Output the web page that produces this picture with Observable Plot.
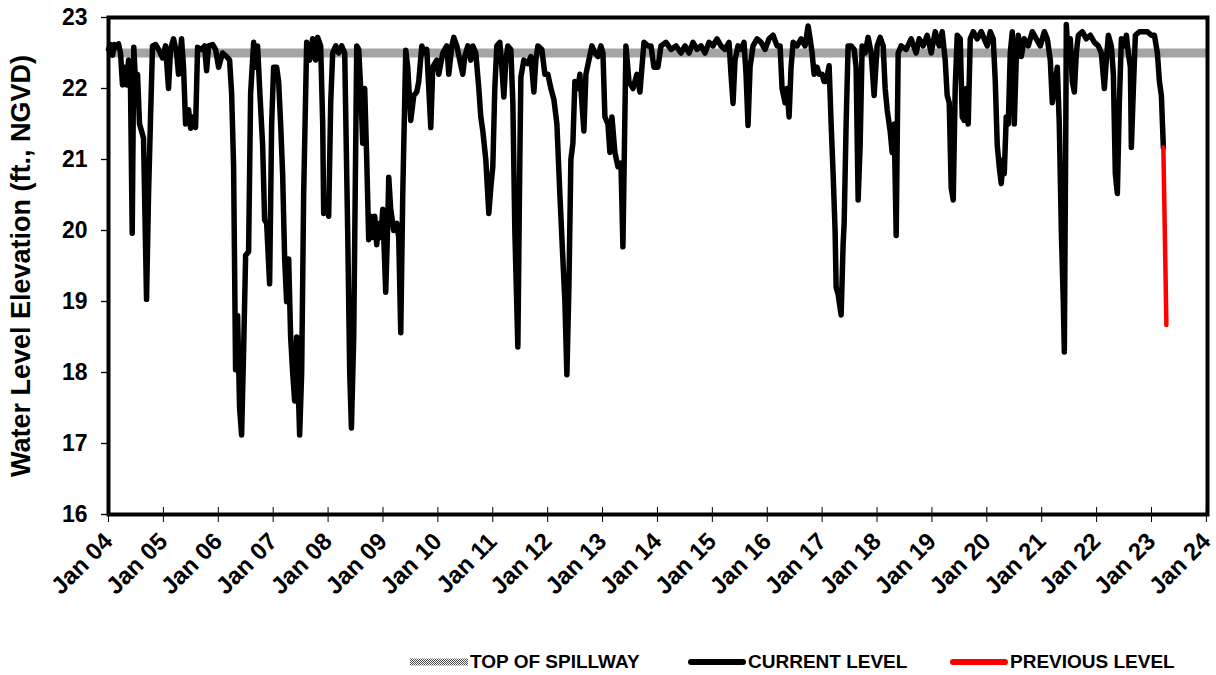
<!DOCTYPE html>
<html>
<head>
<meta charset="utf-8">
<script src="https://cdn.jsdelivr.net/npm/d3@7"></script>
<script src="https://cdn.jsdelivr.net/npm/@observablehq/plot@0.6"></script>
<style>
  html, body { margin: 0; padding: 0; background: #fff; }
  #wrap { position: relative; width: 1216px; height: 675px; font-family: "Liberation Sans", Arial, sans-serif; font-weight: bold; }
  #legend { position: absolute; left: 0; top: 652px; width: 1216px; height: 20px; font-size: 19px; color: #000; }
  .item { position: absolute; top: 0; height: 20px; display: flex; align-items: center; white-space: nowrap; }
  .item svg { display: block; margin-right: 2px; }
</style>
</head>
<body>
<div id="wrap"><div id="legend"></div></div>
<script>
// ---- data ----
const yearTicks = [2004, 2005, 2006, 2007, 2008, 2009, 2010, 2011, 2012, 2013, 2014, 2015, 2016, 2017, 2018, 2019, 2020, 2021, 2022, 2023, 2024];
const yearTickLabels = ["Jan 04", "Jan 05", "Jan 06", "Jan 07", "Jan 08", "Jan 09", "Jan 10", "Jan 11", "Jan 12", "Jan 13", "Jan 14", "Jan 15", "Jan 16", "Jan 17", "Jan 18", "Jan 19", "Jan 20", "Jan 21", "Jan 22", "Jan 23", "Jan 24"];
const levelTicks = [16, 17, 18, 19, 20, 21, 22, 23];
const spillwayLevel = [22.5];
const seriesNames = ["TOP OF SPILLWAY", "CURRENT LEVEL", "PREVIOUS LEVEL"];
const yLabel = "Water Level Elevation (ft., NGVD)";

// [decimal year, water level]
const currentLevel = [
[2004.000,22.55],[2004.036,22.62],[2004.073,22.47],[2004.109,22.62],[2004.146,22.58],[2004.182,22.63],[2004.219,22.50],[2004.255,22.05],[2004.292,22.30],[2004.328,22.05],[2004.365,22.40],[2004.401,22.00],[2004.432,19.96],[2004.461,22.58],[2004.492,22.10],[2004.529,22.20],[2004.565,21.50],[2004.602,21.40],[2004.638,21.30],[2004.693,19.03],[2004.729,20.50],[2004.766,21.60],[2004.802,22.60],[2004.857,22.62],[2004.912,22.55],[2004.985,22.43],
[2005.039,22.60],[2005.094,22.00],[2005.130,22.55],[2005.185,22.70],[2005.240,22.50],[2005.276,22.20],[2005.331,22.70],[2005.367,22.30],[2005.404,21.50],[2005.459,21.70],[2005.495,21.44],[2005.550,21.60],[2005.586,21.45],[2005.623,22.58],[2005.696,22.55],[2005.750,22.60],[2005.787,22.25],[2005.823,22.60],[2005.896,22.62],[2005.951,22.55],
[2006.006,22.30],[2006.078,22.50],[2006.151,22.45],[2006.206,22.40],[2006.243,21.93],[2006.279,20.90],[2006.315,18.04],[2006.352,18.80],[2006.388,17.50],[2006.425,17.12],[2006.461,18.30],[2006.498,19.65],[2006.552,19.70],[2006.589,21.93],[2006.644,22.65],[2006.680,22.30],[2006.716,22.60],[2006.753,22.00],[2006.808,21.20],[2006.844,20.15],[2006.881,20.10],[2006.935,19.25],[2006.972,21.50],
[2007.008,22.30],[2007.063,22.30],[2007.099,22.10],[2007.136,21.50],[2007.172,20.80],[2007.209,19.60],[2007.245,19.00],[2007.282,19.60],[2007.318,18.50],[2007.355,18.00],[2007.391,17.60],[2007.428,18.50],[2007.482,17.12],[2007.519,18.00],[2007.555,20.50],[2007.610,22.65],[2007.665,22.40],[2007.719,22.70],[2007.774,22.40],[2007.810,22.72],[2007.865,22.60],[2007.902,21.50],[2007.920,20.24],[2007.975,20.30],
[2008.011,20.20],[2008.048,21.80],[2008.084,22.50],[2008.139,22.60],[2008.193,22.50],[2008.248,22.60],[2008.303,22.50],[2008.357,20.00],[2008.394,18.00],[2008.425,17.22],[2008.467,18.50],[2008.522,22.60],[2008.558,22.55],[2008.594,22.00],[2008.631,21.23],[2008.667,22.00],[2008.704,21.00],[2008.740,19.87],[2008.777,20.20],[2008.813,19.90],[2008.850,20.20],[2008.886,19.80],[2008.923,20.10],[2008.959,19.90],[2008.996,20.30],
[2009.050,19.13],[2009.087,20.10],[2009.105,20.75],[2009.141,20.30],[2009.196,20.00],[2009.251,20.10],[2009.287,19.90],[2009.324,18.56],[2009.360,20.50],[2009.415,22.54],[2009.451,22.30],[2009.506,21.55],[2009.561,21.90],[2009.615,21.95],[2009.652,22.10],[2009.707,22.60],[2009.761,22.50],[2009.798,22.55],[2009.871,21.45],[2009.907,22.30],[2009.980,22.40],
[2010.017,22.20],[2010.089,22.50],[2010.162,22.60],[2010.199,22.20],[2010.254,22.60],[2010.290,22.72],[2010.345,22.60],[2010.399,22.40],[2010.454,22.20],[2010.491,22.45],[2010.545,22.60],[2010.600,22.40],[2010.636,22.60],[2010.691,22.50],[2010.746,22.00],[2010.782,21.60],[2010.819,21.40],[2010.873,21.00],[2010.928,20.24],[2010.964,20.60],
[2011.001,20.90],[2011.037,22.00],[2011.074,22.60],[2011.129,22.65],[2011.165,22.30],[2011.202,21.88],[2011.238,22.40],[2011.275,22.60],[2011.329,22.55],[2011.366,21.80],[2011.402,20.00],[2011.457,18.36],[2011.493,21.00],[2011.512,22.16],[2011.566,22.40],[2011.639,22.35],[2011.694,22.45],[2011.749,21.95],[2011.785,22.40],[2011.822,22.60],[2011.894,22.55],[2011.949,22.20],
[2012.004,22.20],[2012.059,22.00],[2012.113,21.85],[2012.168,21.50],[2012.223,20.50],[2012.277,19.60],[2012.314,19.00],[2012.350,17.97],[2012.387,19.20],[2012.423,21.00],[2012.460,21.23],[2012.496,22.10],[2012.551,22.00],[2012.587,22.20],[2012.624,21.80],[2012.660,21.40],[2012.697,22.20],[2012.751,22.40],[2012.806,22.60],[2012.861,22.50],[2012.915,22.45],[2012.970,22.60],
[2013.007,22.50],[2013.043,21.60],[2013.098,21.50],[2013.134,21.10],[2013.171,21.60],[2013.225,21.10],[2013.280,20.90],[2013.335,20.95],[2013.371,19.77],[2013.426,22.60],[2013.481,22.10],[2013.554,22.00],[2013.626,22.20],[2013.681,21.95],[2013.754,22.65],[2013.827,22.60],[2013.882,22.60],[2013.936,22.30],
[2014.009,22.30],[2014.064,22.60],[2014.155,22.65],[2014.246,22.55],[2014.338,22.60],[2014.429,22.50],[2014.502,22.60],[2014.575,22.50],[2014.647,22.65],[2014.720,22.55],[2014.793,22.60],[2014.866,22.50],[2014.939,22.65],
[2015.012,22.60],[2015.085,22.70],[2015.158,22.60],[2015.231,22.55],[2015.304,22.65],[2015.340,22.20],[2015.377,21.79],[2015.413,22.40],[2015.468,22.60],[2015.523,22.55],[2015.577,22.65],[2015.614,22.20],[2015.650,21.48],[2015.687,22.30],[2015.741,22.60],[2015.814,22.70],[2015.887,22.65],[2015.960,22.55],
[2016.033,22.70],[2016.106,22.75],[2016.179,22.60],[2016.234,22.60],[2016.270,22.00],[2016.325,21.80],[2016.361,22.00],[2016.398,21.60],[2016.434,22.30],[2016.471,22.65],[2016.544,22.60],[2016.617,22.70],[2016.689,22.60],[2016.744,22.88],[2016.781,22.70],[2016.817,22.50],[2016.854,22.20],[2016.908,22.30],[2016.945,22.20],
[2017.000,22.20],[2017.036,22.10],[2017.072,22.10],[2017.127,22.32],[2017.164,21.50],[2017.200,20.80],[2017.236,20.00],[2017.255,19.20],[2017.291,19.10],[2017.346,18.81],[2017.382,19.80],[2017.401,20.10],[2017.437,21.50],[2017.473,22.60],[2017.528,22.60],[2017.583,22.55],[2017.619,22.30],[2017.656,20.43],[2017.692,21.20],[2017.729,22.60],[2017.783,22.50],[2017.838,22.72],[2017.893,22.50],[2017.947,21.90],
[2018.002,22.60],[2018.057,22.72],[2018.112,22.60],[2018.148,22.00],[2018.185,21.70],[2018.239,21.40],[2018.276,21.10],[2018.312,21.50],[2018.349,19.93],[2018.385,22.50],[2018.440,22.60],[2018.531,22.55],[2018.622,22.70],[2018.713,22.50],[2018.768,22.70],[2018.841,22.60],[2018.914,22.75],[2018.987,22.50],
[2019.060,22.80],[2019.133,22.60],[2019.187,22.80],[2019.242,22.40],[2019.278,21.90],[2019.315,21.80],[2019.351,20.60],[2019.388,20.43],[2019.424,22.00],[2019.461,22.75],[2019.515,22.70],[2019.552,21.60],[2019.588,21.55],[2019.625,22.00],[2019.661,21.50],[2019.698,22.70],[2019.752,22.80],[2019.825,22.70],[2019.898,22.80],[2019.953,22.70],
[2020.008,22.60],[2020.062,22.80],[2020.117,22.70],[2020.154,22.10],[2020.190,21.20],[2020.226,20.90],[2020.263,20.66],[2020.299,21.00],[2020.318,20.80],[2020.354,21.60],[2020.391,21.50],[2020.427,22.50],[2020.464,22.80],[2020.500,21.50],[2020.536,22.40],[2020.573,22.75],[2020.628,22.45],[2020.682,22.70],[2020.755,22.60],[2020.828,22.80],[2020.901,22.70],[2020.974,22.60],
[2021.047,22.80],[2021.102,22.70],[2021.156,22.40],[2021.193,21.80],[2021.229,22.00],[2021.284,22.30],[2021.320,21.50],[2021.357,20.00],[2021.393,19.00],[2021.412,18.29],[2021.439,21.50],[2021.448,22.90],[2021.485,22.40],[2021.521,22.70],[2021.557,22.10],[2021.594,21.95],[2021.630,22.50],[2021.667,22.75],[2021.740,22.80],[2021.813,22.70],[2021.886,22.75],[2021.959,22.65],
[2022.031,22.60],[2022.086,22.50],[2022.141,22.00],[2022.177,22.40],[2022.214,22.75],[2022.268,22.60],[2022.305,22.20],[2022.341,20.80],[2022.378,20.52],[2022.414,21.80],[2022.451,22.70],[2022.505,22.60],[2022.542,22.75],[2022.578,22.50],[2022.615,22.30],[2022.633,21.17],[2022.670,22.00],[2022.706,22.75],[2022.779,22.80],[2022.852,22.80],[2022.925,22.80],[2022.998,22.75],
[2023.053,22.75],[2023.107,22.50],[2023.144,22.10],[2023.180,21.90],[2023.216,21.17]
];
const previousLevel = [[2023.216,21.17],[2023.271,18.67]];

// ---- chart ----
const FONT = '"Liberation Sans", Arial, Helvetica, sans-serif';
const tickLabel = y => yearTickLabels[yearTicks.indexOf(y)];

const chart = Plot.plot({
  width: 1216,
  height: 648,
  marginLeft: 108,
  marginRight: 9,
  marginTop: 17,
  marginBottom: 134,
  style: { fontFamily: FONT, fontWeight: "bold", fontSize: "22px", color: "#000", background: "#fff", overflow: "visible" },
  x: { type: "linear", domain: [2004, 2024.02] },
  y: { domain: [16, 23] },
  marks: [
    Plot.ruleY(spillwayLevel, { y: d => d, stroke: "url(#checker)", strokeWidth: 9 }),
    Plot.line(currentLevel, { x: d => d[0], y: d => d[1], stroke: "#000", strokeWidth: 5.5, strokeLinejoin: "round", strokeLinecap: "round" }),
    Plot.line(previousLevel, { x: d => d[0], y: d => d[1], stroke: "#ff0000", strokeWidth: 4.5, strokeLinejoin: "round", strokeLinecap: "round" }),
    Plot.axisY({ ticks: levelTicks, tickSize: 7, tickPadding: 14, tickFormat: d => String(d), label: null, fontSize: 23, fontWeight: "bold", strokeWidth: 1.3 }),
    Plot.axisX({ ticks: yearTicks, tickSize: 8, tickPadding: 15, tickRotate: -45, tickFormat: tickLabel, label: null, fontSize: 24, fontWeight: "bold", strokeWidth: 1 }),
    Plot.axisX({ ticks: yearTicks, tickSize: -7, tickFormat: () => "", label: null, strokeWidth: 1 }),
    Plot.frame({ stroke: "#000", strokeWidth: 4 }),
    Plot.text([yLabel], { text: d => d, frameAnchor: "left", textAnchor: "middle", rotate: -90, dx: -87, fontSize: 27, fontWeight: "bold", fill: "#000" })
  ]
});

// checkered pattern for the spillway band
const NS = "http://www.w3.org/2000/svg";
const defs = document.createElementNS(NS, "defs");
const pat = document.createElementNS(NS, "pattern");
pat.setAttribute("id", "checker");
pat.setAttribute("patternUnits", "userSpaceOnUse");
pat.setAttribute("width", "2");
pat.setAttribute("height", "2");
[["0", "0", "2", "2", "#ffffff"], ["0", "0", "1", "1", "#4a4a4a"], ["1", "1", "1", "1", "#4a4a4a"]].forEach(([x, y, w, h, f]) => {
  const r = document.createElementNS(NS, "rect");
  r.setAttribute("x", x); r.setAttribute("y", y); r.setAttribute("width", w); r.setAttribute("height", h); r.setAttribute("fill", f);
  pat.appendChild(r);
});
defs.appendChild(pat);
chart.insertBefore(defs, chart.firstChild);

const wrap = document.getElementById("wrap");
wrap.insertBefore(chart, wrap.firstChild);

// legend (below the chart)
const legend = document.getElementById("legend");
const legendLeft = [410, 688, 950];
const swatches = [
  { type: "band", color: "url(#checker)" },
  { type: "line", color: "#000" },
  { type: "line", color: "#ff0000" }
];
seriesNames.forEach((name, i) => {
  const item = document.createElement("div");
  item.className = "item";
  item.style.left = legendLeft[i] + "px";
  const s = document.createElementNS(NS, "svg");
  s.setAttribute("width", "58");
  s.setAttribute("height", "20");
  if (swatches[i].type === "band") {
    const r = document.createElementNS(NS, "rect");
    r.setAttribute("x", "0"); r.setAttribute("y", "6.5"); r.setAttribute("width", "58"); r.setAttribute("height", "7");
    r.setAttribute("fill", swatches[i].color);
    s.appendChild(r);
  } else {
    const l = document.createElementNS(NS, "line");
    l.setAttribute("x1", "3"); l.setAttribute("x2", "55"); l.setAttribute("y1", "10"); l.setAttribute("y2", "10");
    l.setAttribute("stroke", swatches[i].color); l.setAttribute("stroke-width", "6"); l.setAttribute("stroke-linecap", "round");
    s.appendChild(l);
  }
  item.appendChild(s);
  const t = document.createElement("span");
  t.textContent = name;
  item.appendChild(t);
  legend.appendChild(item);
});
</script>
</body>
</html>
